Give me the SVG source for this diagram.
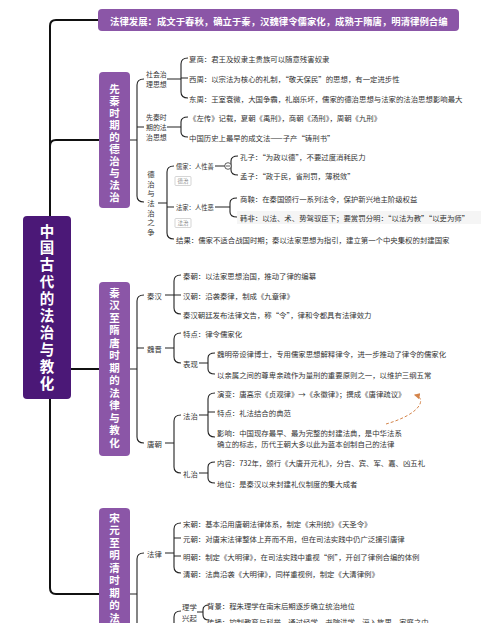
<svg xmlns="http://www.w3.org/2000/svg" width="500" height="623" viewBox="0 0 500 623">
<defs>
<style>
.t{font-family:"Noto Sans CJK SC","Noto Sans",sans-serif;font-size:7.4px;fill:#333;dominant-baseline:central}
.lb{font-size:6.3px}
.ml{font-size:6.9px}
.box{fill:#8b56a7}
.v{font-family:"Noto Sans CJK SC","Noto Sans",sans-serif;writing-mode:vertical-rl;text-orientation:upright}
.bt{font-size:10.5px;font-weight:bold;fill:#fff}
.ct{font-size:14.5px;font-weight:bold;fill:#fff}
.trunk{fill:none;stroke:#111;stroke-width:2}
.br{fill:none;stroke:#222;stroke-width:1.1}
.tag{fill:#fff;stroke:#bbb;stroke-width:0.6}
.tt{font-family:"Noto Sans CJK SC","Noto Sans",sans-serif;font-size:5.5px;fill:#888;dominant-baseline:central}
</style>
<marker id="ah" viewBox="0 0 10 10" refX="8" refY="5" markerWidth="6" markerHeight="6" orient="auto-start-reverse">
<path d="M0,0 L10,5 L0,10 z" fill="#d4844a"/>
</marker>
</defs>
<rect width="500" height="623" fill="#fff"/>

<g id="connectors">
<path class="trunk" d="M98,20 L56,20 Q50,20 50,26 L50,216"/>
<path class="trunk" d="M99,140 L56,140 Q50,140 50,146 L50,216"/>
<path class="trunk" d="M71,369 L99,369"/>
<path class="trunk" d="M50,398 L50,588 Q50,594 56,594 L99,594"/>
<path class="br" d="M130,140 L137,140 M144,79 Q137,79 137,85 L137,196 Q137,202 144,202 M137,127 L144,127"/>
<path class="br" d="M167,79 L181,79 M188,58 Q181,58 181,64 L181,92 Q181,98 188,98 M181,78 L188,78"/>
<path class="br" d="M167,127 L181,127 M188,117 Q181,117 181,122 L181,132 Q181,137 188,137"/>
<path class="br" d="M158,203 L167,203 M174,166 Q167,166 167,172 L167,233 Q167,239 174,239 M167,207 L174,207"/>
<path class="br" d="M215,166 L231,166 M238,156 Q231,156 231,161 L231,170 Q231,175 238,175"/>
<circle cx="228" cy="166" r="3.3" fill="#fff" stroke="#333" stroke-width="0.8"/>
<path d="M226,166 L230,166" stroke="#333" stroke-width="0.8"/>
<path class="br" d="M215,207 L230,207 M237,198 Q230,198 230,203 L230,212 Q230,217 237,217"/>
<path class="br" d="M130,369 L137,369 M144,295 Q137,295 137,301 L137,437 Q137,443 144,443 M137,348 L144,348"/>
<path class="br" d="M165,295 L174,295 M181,275 Q174,275 174,281 L174,308 Q174,314 181,314 M174,295 L181,295"/>
<path class="br" d="M165,348 L174,348 M181,333 Q174,333 174,339 L174,357 Q174,363 181,363"/>
<path class="br" d="M199,363 L208,363 M215,353 Q208,353 208,358 L208,369 Q208,374 215,374"/>
<path class="br" d="M165,443 L174,443 M181,415 Q174,415 174,421 L174,467 Q174,473 181,473"/>
<path class="br" d="M199,415 L208,415 M215,393 Q208,393 208,399 L208,431 Q208,437 215,437 M208,412 L215,412"/>
<path class="br" d="M199,473 L208,473 M215,462 Q208,462 208,467 L208,478 Q208,483 215,483"/>
<path class="br" d="M130,594 L137,594 M144,553 Q137,553 137,559 L137,640"/>
<path class="br" d="M165,553 L174,553 M181,523 Q174,523 174,529 L174,567 Q174,573 181,573 M174,538 L181,538 M174,556 L181,556"/>
<path class="br" d="M181,611 Q174,611 174,617 L174,640"/>
<path class="br" d="M197,612 L203,612 M209,605 Q203,605 203,610 L203,615 Q203,620 209,620"/>
<path d="M386,424 C400,420 416,413 420,404 C422,399 419,396 415,395" fill="none" stroke="#d4844a" stroke-width="1" stroke-dasharray="3,2" marker-end="url(#ah)"/>
</g>

<g id="banner">
<rect x="98" y="9" width="361" height="22" rx="4" class="box"/>
<text x="110" y="20.5" font-family="Noto Sans CJK SC, sans-serif" font-size="9.4" font-weight="bold" fill="#fff" dominant-baseline="central">法律发展：成文于春秋，确立于秦，汉魏律令儒家化，成熟于隋唐，明清律例合编</text>
</g>

<g id="central">
<rect x="23" y="216" width="48" height="183" rx="4" fill="#4b1877"/>
<text class="v ct" x="47" y="223.75" letter-spacing="2.4">中国古代的法治与教化</text>
</g>

<g id="sec1">
<rect x="99" y="72" width="31" height="136" rx="4" class="box"/>
<text class="v bt" x="114.5" y="83.75" letter-spacing="1.5">先秦时期的德治与法治</text>
</g>
<g id="s1-social">
<text class="t ml" x="146" y="74">社会治</text><text class="t ml" x="146" y="84">理思想</text>
</g>
<g id="s1-social-items">
<text class="t" x="189" y="58">夏商：君王及奴隶主贵族可以随意残害奴隶</text>
<text class="t" x="189" y="78">西周：以宗法为核心的礼制，“敬天保民”的思想，有一定进步性</text>
<text class="t" x="189" y="98">东周：王室衰微，大国争霸，礼崩乐坏，儒家的德治思想与法家的法治思想影响最大</text>
</g>
<g id="s1-law">
<text class="t ml" x="146" y="117">先秦时</text><text class="t ml" x="146" y="127">期的法</text><text class="t ml" x="146" y="137">治思想</text>
</g>
<g id="s1-law-items">
<text class="t" x="189" y="117">《左传》记载，夏朝《禹刑》，商朝《汤刑》，周朝《九刑》</text>
<text class="t" x="189" y="137">中国历史上最早的成文法——子产“铸刑书”</text>
</g>
<g id="s1-debate">
<text class="v" x="151" y="170.3" font-size="7.4" fill="#333" letter-spacing="2.3">德治与法治之争</text>
</g>
<g id="s1-ru">
<text class="t lb" x="176" y="166">儒家：人性善</text>
<rect class="tag" x="175" y="176.5" width="16" height="9" rx="1"/><text class="tt" x="177.5" y="181">德治</text>
<text class="t" x="240" y="156">孔子：“为政以德”，不要过度消耗民力</text>
<text class="t" x="240" y="175">孟子：“政于民，省刑罚，薄税敛”</text>
</g>
<g id="s1-fa">
<text class="t lb" x="176" y="207">法家：人性恶</text>
<rect class="tag" x="175" y="218.5" width="16" height="9" rx="1"/><text class="tt" x="177.5" y="223">法治</text>
<text class="t" x="240" y="198">商鞅：在秦国颁行一系列法令，保护新兴地主阶级权益</text>
<rect x="237" y="211" width="244" height="13" fill="#f5f5f5"/>
<text class="t" x="240" y="217">韩非：以法、术、势驾驭臣下；要赏罚分明：“以法为教”“以吏为师”</text>
</g>
<g id="s1-result">
<text class="t" x="176" y="239">结果：儒家不适合战国时期；秦以法家思想为指引，建立第一个中央集权的封建国家</text>
</g>

<g id="sec2">
<rect x="99" y="282" width="31" height="174" rx="4" class="box"/>
<text class="v bt" x="114.5" y="287.75" letter-spacing="2">秦汉至隋唐时期的法律与教化</text>
</g>
<g id="s2-qinhan">
<text class="t" x="147" y="295">秦汉</text>
<text class="t" x="183" y="275">秦朝：以法家思想治国，推动了律的编纂</text>
<text class="t" x="183" y="295">汉朝：沿袭秦律，制成《九章律》</text>
<text class="t" x="183" y="314">秦汉朝廷发布法律文告，称“令”，律和令都具有法律效力</text>
</g>
<g id="s2-weijin">
<text class="t" x="147" y="348">魏晋</text>
<text class="t" x="183" y="333">特点：律令儒家化</text>
<text class="t" x="183" y="363">表现</text>
<text class="t" x="217" y="353">魏明帝设律博士，专用儒家思想解释律令，进一步推动了律令的儒家化</text>
<text class="t" x="217" y="374">以亲属之间的尊卑亲疏作为量刑的重要原则之一，以维护三纲五常</text>
</g>
<g id="s2-tang">
<text class="t" x="147" y="443">唐朝</text>
<text class="t" x="183" y="415">法治</text>
<text class="t" x="217" y="393">演变：唐高宗《贞观律》→《永徽律》；撰成《唐律疏议》</text>
<text class="t" x="217" y="412">特点：礼法结合的典范</text>
<text class="t" x="217" y="432">影响：中国现存最早、最为完整的封建法典，是中华法系</text>
<text class="t" x="217" y="443">确立的标志，历代王朝大多以此为蓝本创制自己的法律</text>
<text class="t" x="183" y="473">礼治</text>
<text class="t" x="217" y="462">内容：732年，颁行《大唐开元礼》，分吉、宾、军、嘉、凶五礼</text>
<text class="t" x="217" y="483">地位：是秦汉以来封建礼仪制度的集大成者</text>
</g>

<g id="sec3">
<rect x="99" y="508" width="31" height="200" rx="4" class="box"/>
<text class="v bt" x="114.5" y="512.75" letter-spacing="2">宋元至明清时期的法</text>
</g>
<g id="s3-law">
<text class="t" x="147" y="553">法律</text>
<text class="t" x="183" y="523">宋朝：基本沿用唐朝法律体系，制定《宋刑统》《天圣令》</text>
<text class="t" x="183" y="538">元朝：对唐宋法律整体上弃而不用，但在司法实践中仍广泛援引唐律</text>
<text class="t" x="183" y="556">明朝：制定《大明律》，在司法实践中重视“例”，开创了律例合编的体例</text>
<text class="t" x="183" y="573">清朝：法典沿袭《大明律》，同样重视例，制定《大清律例》</text>
</g>
<g id="s3-lixue">
<text class="t" x="182" y="606">理学</text><text class="t" x="182" y="617">兴起</text>
<text class="t" x="207" y="605">背景：程朱理学在南宋后期逐步确立统治地位</text>
<text class="t" x="207" y="621">传播：控制教育与科举，通过经学、书院讲学，深入族里、家庭之中</text>
</g>
</svg>
